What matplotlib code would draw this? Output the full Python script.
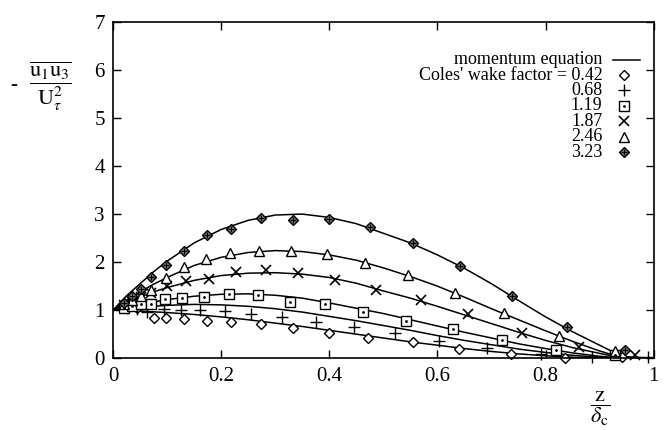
import numpy as np
import matplotlib
matplotlib.use("Agg")
import matplotlib.pyplot as plt

plt.rcParams['font.family'] = ['Liberation Serif', 'DejaVu Serif']
plt.rcParams['mathtext.fontset'] = 'stix'

# momentum equation curves, one per wake factor
curve_x = [0.0, 0.025, 0.05, 0.075, 0.1, 0.15, 0.2, 0.25, 0.3, 0.35, 0.4, 0.45,
           0.5, 0.55, 0.6, 0.65, 0.7, 0.75, 0.8, 0.85, 0.9, 0.93, 0.95, 1.0]
curve_042 = [1.0, 0.99, 0.98, 0.965, 0.95, 0.91, 0.86, 0.8, 0.73, 0.66, 0.58, 0.5,
             0.42, 0.34, 0.27, 0.2, 0.14, 0.09, 0.05, 0.02, 0.005, 0.0, 0.0, 0.0]
curve_068 = [1.0, 1.03, 1.06, 1.08, 1.1, 1.12, 1.11, 1.08, 1.03, 0.96, 0.87, 0.78,
             0.68, 0.58, 0.47, 0.37, 0.28, 0.19, 0.12, 0.06, 0.02, 0.005, 0.0, 0.0]
curve_119 = [1.0, 1.06, 1.12, 1.17, 1.22, 1.29, 1.33, 1.34, 1.31, 1.25, 1.15, 1.04,
             0.93, 0.8, 0.67, 0.54, 0.42, 0.3, 0.2, 0.11, 0.04, 0.01, 0.0, 0.0]
curve_187 = [1.0, 1.14, 1.27, 1.38, 1.47, 1.62, 1.72, 1.77, 1.78, 1.75, 1.68, 1.56,
             1.4, 1.25, 1.08, 0.9, 0.72, 0.54, 0.37, 0.22, 0.1, 0.03, 0.01, 0.0]
curve_246 = [1.0, 1.2, 1.38, 1.54, 1.68, 1.93, 2.1, 2.2, 2.24, 2.22, 2.15, 2.04,
             1.88, 1.7, 1.5, 1.27, 1.03, 0.8, 0.57, 0.35, 0.15, 0.05, 0.02, 0.0]
curve_323 = [1.0, 1.3, 1.55, 1.8, 2.02, 2.4, 2.68, 2.87, 2.98, 3.0, 2.93, 2.8,
             2.6, 2.4, 2.15, 1.87, 1.55, 1.2, 0.86, 0.55, 0.27, 0.1, 0.03, 0.0]

# measured points
x_042 = [0.045, 0.075, 0.098, 0.131, 0.173, 0.219, 0.274, 0.333, 0.4, 0.472, 0.554,
         0.639, 0.736, 0.836, 0.941]
y_042 = [1.04, 0.84, 0.83, 0.82, 0.78, 0.75, 0.72, 0.63, 0.53, 0.42, 0.33,
         0.19, 0.09, 0.0, 0.02]
x_068 = [0.025, 0.045, 0.063, 0.094, 0.126, 0.161, 0.207, 0.256, 0.313, 0.376, 0.445,
         0.522, 0.602, 0.691, 0.791, 0.886, 0.99]
y_068 = [1.05, 1.02, 0.96, 1.03, 1.01, 1.01, 0.99, 0.92, 0.85, 0.75, 0.65,
         0.52, 0.35, 0.21, 0.09, 0.03, 0.02]
x_119 = [0.02, 0.035, 0.051, 0.071, 0.097, 0.128, 0.169, 0.215, 0.268, 0.327, 0.392,
         0.463, 0.541, 0.628, 0.72, 0.819, 0.929]
y_119 = [1.05, 1.08, 1.13, 1.13, 1.24, 1.26, 1.28, 1.34, 1.31, 1.18, 1.12,
         0.97, 0.77, 0.61, 0.37, 0.18, 0.06]
x_187 = [0.02, 0.035, 0.051, 0.071, 0.1, 0.135, 0.177, 0.228, 0.282, 0.343, 0.411,
         0.487, 0.569, 0.657, 0.756, 0.862, 0.965]
y_187 = [1.1, 1.18, 1.27, 1.35, 1.5, 1.6, 1.65, 1.79, 1.83, 1.77, 1.63,
         1.42, 1.22, 0.92, 0.53, 0.24, 0.06]
x_246 = [0.02, 0.035, 0.051, 0.071, 0.098, 0.131, 0.172, 0.217, 0.27, 0.329, 0.395,
         0.466, 0.546, 0.632, 0.724, 0.825, 0.929]
y_246 = [1.12, 1.22, 1.3, 1.41, 1.67, 1.9, 2.07, 2.19, 2.24, 2.23, 2.16,
         1.99, 1.74, 1.35, 0.94, 0.47, 0.16]
x_323 = [0.02, 0.035, 0.051, 0.071, 0.098, 0.131, 0.173, 0.219, 0.274, 0.333, 0.4,
         0.475, 0.554, 0.642, 0.738, 0.839, 0.946]
y_323 = [1.15, 1.3, 1.44, 1.7, 1.93, 2.23, 2.56, 2.69, 2.92, 2.88, 2.9,
         2.73, 2.4, 1.92, 1.29, 0.65, 0.17]

labels = ["Coles' wake factor = 0.42", "0.68", "1.19", "1.87", "2.46", "3.23"]
x_ticks = [0, 0.2, 0.4, 0.6, 0.8, 1]
x_ticklabels = ["0", "0.2", "0.4", "0.6", "0.8", "1"]
y_ticks = [0, 1, 2, 3, 4, 5, 6, 7]

fig = plt.figure(figsize=(6.65, 4.3), dpi=100)
ax = fig.add_axes([0.170, 0.167, 0.813, 0.782])

for cy in [curve_042, curve_068, curve_119, curve_187, curve_246, curve_323]:
    ax.plot(curve_x, cy, color='black', lw=1.1)

# marker styles: open diamond, plus, square, x, triangle, grey diamond
styles = [
    dict(marker='D', ms=5.5, mfc='white', mec='black', mew=1.0),
    dict(marker='+', ms=8, mec='black', mew=1.0),
    dict(marker='s', ms=7, mfc='white', mec='black', mew=1.0),
    dict(marker='x', ms=7, mec='black', mew=1.2),
    dict(marker='^', ms=7, mfc='white', mec='black', mew=1.0),
    dict(marker='D', ms=5.5, mfc='0.45', mec='black', mew=1.0),
]
series = [(x_042, y_042), (x_068, y_068), (x_119, y_119),
          (x_187, y_187), (x_246, y_246), (x_323, y_323)]
for (sx, sy), st in zip(series, styles):
    ax.plot(sx, sy, ls='none', clip_on=False, **st)
# centre details: dot in the boxes, cross in the grey diamonds
ax.plot(x_119, y_119, ls='none', marker='.', ms=2, color='black')
ax.plot(x_323, y_323, ls='none', marker='+', ms=4, mew=0.8, color='black')

ax.set_xlim(0, 1)
ax.set_ylim(0, 7)
ax.set_xticks(x_ticks)
ax.set_xticklabels(x_ticklabels)
ax.set_yticks(y_ticks)
ax.tick_params(direction='in', top=True, right=True, length=6, width=1,
               labelsize=15, pad=6)
for sp in ax.spines.values():
    sp.set_linewidth(1.2)

# legend drawn gnuplot-style: right-aligned text, sample to the right
leg_fs = 13
ax.text(0.905, 0.887, "momentum equation", transform=ax.transAxes,
        ha='right', va='center', fontsize=leg_fs)
ax.plot([0.925, 0.975], [0.887, 0.887], transform=ax.transAxes, color='black', lw=1.1)
row_y = [0.842, 0.797, 0.751, 0.705, 0.659, 0.613]
for lab, yy, st in zip(labels, row_y, styles):
    ax.text(0.905, yy, lab, transform=ax.transAxes, ha='right', va='center',
            fontsize=leg_fs)
    ax.plot([0.945], [yy], transform=ax.transAxes, ls='none', **st)
ax.plot([0.945], [row_y[2]], transform=ax.transAxes, marker='.', ms=2, color='black')
ax.plot([0.945], [row_y[5]], transform=ax.transAxes, marker='+', ms=4, mew=0.8,
        color='black')

# axis labels as stacked fractions
fig.text(0.02, 0.80, "-", fontsize=15, ha='center', va='center')
fig.text(0.075, 0.80, r'$\dfrac{\overline{\mathrm{u}_1\mathrm{u}_3}}{\mathrm{U}_\tau^2}$',
         fontsize=16, ha='center', va='center')
fig.text(0.902, 0.05, r'$\dfrac{\mathrm{z}}{\delta_\mathrm{c}}$',
         fontsize=16, ha='center', va='center')

fig.savefig("out.png", dpi=100)
